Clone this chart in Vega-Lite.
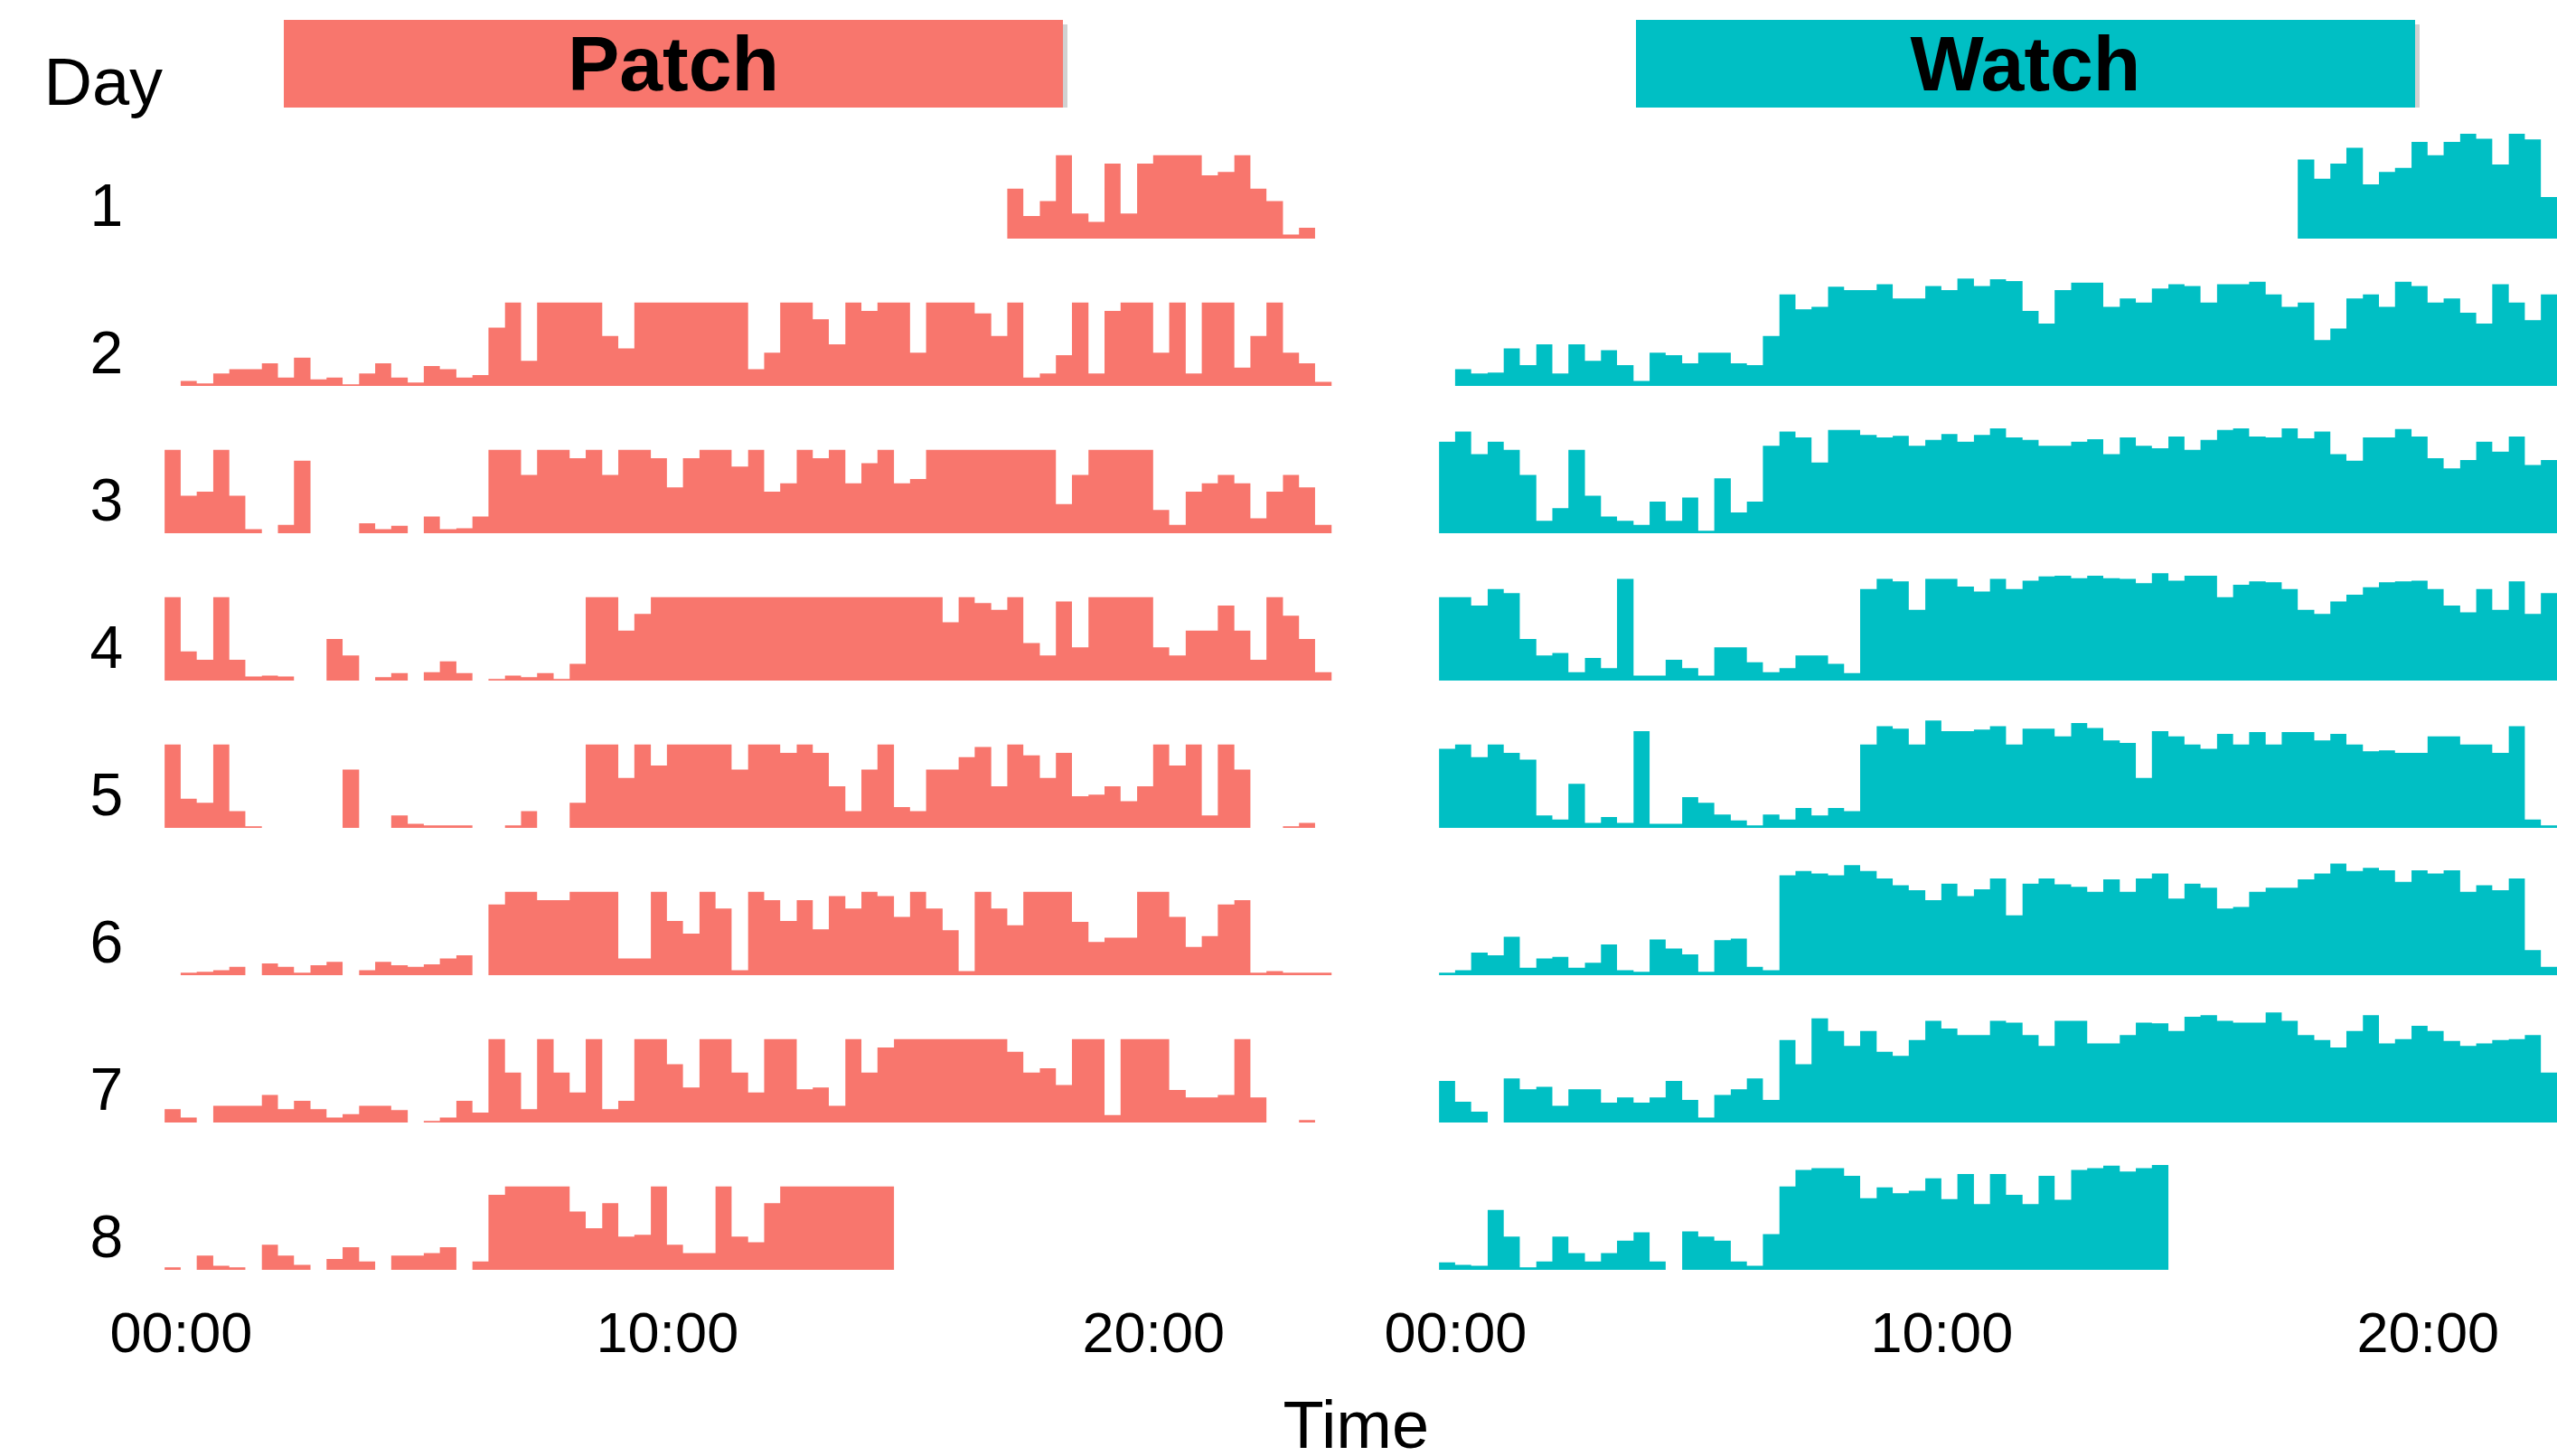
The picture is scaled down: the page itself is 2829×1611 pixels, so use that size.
{
"$schema":"https://vega.github.io/schema/vega-lite/v6.json",
"background":"white",
"padding":{"left":48,"top":22,"right":0,"bottom":0},
"config":{"view":{"stroke":null},"font":"Liberation Sans","axis":{"domain":false,"ticks":false,"grid":false}},
"datasets":{"act":[
{"g":"Patch","t":-0.33,"1":0,"2":0,"3":1,"4":1,"5":1,"6":0,"7":0.16,"8":0.03},
{"g":"Patch","t":0,"1":0,"2":0.06,"3":0.45,"4":0.35,"5":0.35,"6":0.03,"7":0.06,"8":0},
{"g":"Patch","t":0.33,"1":0,"2":0.03,"3":0.5,"4":0.25,"5":0.3,"6":0.04,"7":0,"8":0.17},
{"g":"Patch","t":0.67,"1":0,"2":0.15,"3":1,"4":1,"5":1,"6":0.06,"7":0.2,"8":0.05},
{"g":"Patch","t":1,"1":0,"2":0.2,"3":0.45,"4":0.25,"5":0.2,"6":0.1,"7":0.2,"8":0.03},
{"g":"Patch","t":1.33,"1":0,"2":0.2,"3":0.05,"4":0.05,"5":0.02,"6":0,"7":0.2,"8":0},
{"g":"Patch","t":1.67,"1":0,"2":0.27,"3":0,"4":0.06,"5":0,"6":0.14,"7":0.33,"8":0.3},
{"g":"Patch","t":2,"1":0,"2":0.1,"3":0.1,"4":0.05,"5":0,"6":0.1,"7":0.16,"8":0.17},
{"g":"Patch","t":2.33,"1":0,"2":0.34,"3":0.87,"4":0,"5":0,"6":0.03,"7":0.26,"8":0.06},
{"g":"Patch","t":2.67,"1":0,"2":0.08,"3":0,"4":0,"5":0,"6":0.12,"7":0.16,"8":0},
{"g":"Patch","t":3,"1":0,"2":0.1,"3":0,"4":0.5,"5":0,"6":0.16,"7":0.06,"8":0.13},
{"g":"Patch","t":3.33,"1":0,"2":0.02,"3":0,"4":0.3,"5":0.7,"6":0,"7":0.1,"8":0.27},
{"g":"Patch","t":3.67,"1":0,"2":0.15,"3":0.12,"4":0,"5":0,"6":0.06,"7":0.2,"8":0.1},
{"g":"Patch","t":4,"1":0,"2":0.27,"3":0.05,"4":0.04,"5":0,"6":0.16,"7":0.2,"8":0},
{"g":"Patch","t":4.33,"1":0,"2":0.1,"3":0.09,"4":0.09,"5":0.15,"6":0.12,"7":0.15,"8":0.17},
{"g":"Patch","t":4.67,"1":0,"2":0.04,"3":0,"4":0,"5":0.05,"6":0.1,"7":0,"8":0.17},
{"g":"Patch","t":5,"1":0,"2":0.24,"3":0.2,"4":0.1,"5":0.03,"6":0.13,"7":0.02,"8":0.2},
{"g":"Patch","t":5.33,"1":0,"2":0.2,"3":0.05,"4":0.23,"5":0.03,"6":0.2,"7":0.06,"8":0.27},
{"g":"Patch","t":5.67,"1":0,"2":0.1,"3":0.06,"4":0.09,"5":0.03,"6":0.24,"7":0.26,"8":0},
{"g":"Patch","t":6,"1":0,"2":0.13,"3":0.2,"4":0,"5":0,"6":0,"7":0.12,"8":0.1},
{"g":"Patch","t":6.33,"1":0,"2":0.7,"3":1,"4":0.02,"5":0,"6":0.85,"7":1,"8":0.9},
{"g":"Patch","t":6.67,"1":0,"2":1,"3":1,"4":0.06,"5":0.03,"6":1,"7":0.6,"8":1},
{"g":"Patch","t":7,"1":0,"2":0.3,"3":0.7,"4":0.04,"5":0.2,"6":1,"7":0.16,"8":1},
{"g":"Patch","t":7.33,"1":0,"2":1,"3":1,"4":0.09,"5":0,"6":0.9,"7":1,"8":1},
{"g":"Patch","t":7.67,"1":0,"2":1,"3":1,"4":0.02,"5":0,"6":0.9,"7":0.6,"8":1},
{"g":"Patch","t":8,"1":0,"2":1,"3":0.9,"4":0.2,"5":0.3,"6":1,"7":0.36,"8":0.7},
{"g":"Patch","t":8.33,"1":0,"2":1,"3":1,"4":1,"5":1,"6":1,"7":1,"8":0.5},
{"g":"Patch","t":8.67,"1":0,"2":0.6,"3":0.7,"4":1,"5":1,"6":1,"7":0.16,"8":0.8},
{"g":"Patch","t":9,"1":0,"2":0.45,"3":1,"4":0.6,"5":0.6,"6":0.2,"7":0.26,"8":0.4},
{"g":"Patch","t":9.33,"1":0,"2":1,"3":1,"4":0.8,"5":1,"6":0.2,"7":1,"8":0.42},
{"g":"Patch","t":9.67,"1":0,"2":1,"3":0.9,"4":1,"5":0.75,"6":1,"7":1,"8":1},
{"g":"Patch","t":10,"1":0,"2":1,"3":0.55,"4":1,"5":1,"6":0.65,"7":0.7,"8":0.3},
{"g":"Patch","t":10.33,"1":0,"2":1,"3":0.9,"4":1,"5":1,"6":0.5,"7":0.42,"8":0.2},
{"g":"Patch","t":10.67,"1":0,"2":1,"3":1,"4":1,"5":1,"6":1,"7":1,"8":0.2},
{"g":"Patch","t":11,"1":0,"2":1,"3":1,"4":1,"5":1,"6":0.8,"7":1,"8":1},
{"g":"Patch","t":11.33,"1":0,"2":1,"3":0.8,"4":1,"5":0.7,"6":0.06,"7":0.6,"8":0.4},
{"g":"Patch","t":11.67,"1":0,"2":0.2,"3":1,"4":1,"5":1,"6":1,"7":0.36,"8":0.33},
{"g":"Patch","t":12,"1":0,"2":0.4,"3":0.5,"4":1,"5":1,"6":0.9,"7":1,"8":0.8},
{"g":"Patch","t":12.33,"1":0,"2":1,"3":0.6,"4":1,"5":0.9,"6":0.65,"7":1,"8":1},
{"g":"Patch","t":12.67,"1":0,"2":1,"3":1,"4":1,"5":1,"6":0.9,"7":0.4,"8":1},
{"g":"Patch","t":13,"1":0,"2":0.8,"3":0.9,"4":1,"5":0.9,"6":0.55,"7":0.42,"8":1},
{"g":"Patch","t":13.33,"1":0,"2":0.5,"3":1,"4":1,"5":0.5,"6":0.95,"7":0.2,"8":1},
{"g":"Patch","t":13.67,"1":0,"2":1,"3":0.6,"4":1,"5":0.2,"6":0.8,"7":1,"8":1},
{"g":"Patch","t":14,"1":0,"2":0.9,"3":0.84,"4":1,"5":0.7,"6":1,"7":0.6,"8":1},
{"g":"Patch","t":14.33,"1":0,"2":1,"3":1,"4":1,"5":1,"6":0.95,"7":0.9,"8":1},
{"g":"Patch","t":14.67,"1":0,"2":1,"3":0.6,"4":1,"5":0.25,"6":0.7,"7":1,"8":0},
{"g":"Patch","t":15,"1":0,"2":0.4,"3":0.65,"4":1,"5":0.2,"6":1,"7":1,"8":0},
{"g":"Patch","t":15.33,"1":0,"2":1,"3":1,"4":1,"5":0.7,"6":0.8,"7":1,"8":0},
{"g":"Patch","t":15.67,"1":0,"2":1,"3":1,"4":0.7,"5":0.7,"6":0.54,"7":1,"8":0},
{"g":"Patch","t":16,"1":0,"2":1,"3":1,"4":1,"5":0.85,"6":0.05,"7":1,"8":0},
{"g":"Patch","t":16.33,"1":0,"2":0.87,"3":1,"4":0.93,"5":0.97,"6":1,"7":1,"8":0},
{"g":"Patch","t":16.67,"1":0,"2":0.6,"3":1,"4":0.85,"5":0.5,"6":0.8,"7":1,"8":0},
{"g":"Patch","t":17,"1":0.6,"2":1,"3":1,"4":1,"5":1,"6":0.6,"7":0.85,"8":0},
{"g":"Patch","t":17.33,"1":0.27,"2":0.1,"3":1,"4":0.45,"5":0.87,"6":1,"7":0.6,"8":0},
{"g":"Patch","t":17.67,"1":0.45,"2":0.15,"3":1,"4":0.3,"5":0.6,"6":1,"7":0.65,"8":0},
{"g":"Patch","t":18,"1":1,"2":0.37,"3":0.35,"4":0.95,"5":0.9,"6":1,"7":0.45,"8":0},
{"g":"Patch","t":18.33,"1":0.3,"2":1,"3":0.7,"4":0.4,"5":0.38,"6":0.64,"7":1,"8":0},
{"g":"Patch","t":18.67,"1":0.2,"2":0.15,"3":1,"4":1,"5":0.4,"6":0.4,"7":1,"8":0},
{"g":"Patch","t":19,"1":0.9,"2":0.9,"3":1,"4":1,"5":0.5,"6":0.45,"7":0.09,"8":0},
{"g":"Patch","t":19.33,"1":0.3,"2":1,"3":1,"4":1,"5":0.32,"6":0.45,"7":1,"8":0},
{"g":"Patch","t":19.67,"1":0.9,"2":1,"3":1,"4":1,"5":0.5,"6":1,"7":1,"8":0},
{"g":"Patch","t":20,"1":1,"2":0.4,"3":0.28,"4":0.4,"5":1,"6":1,"7":1,"8":0},
{"g":"Patch","t":20.33,"1":1,"2":1,"3":0.1,"4":0.3,"5":0.75,"6":0.7,"7":0.39,"8":0},
{"g":"Patch","t":20.67,"1":1,"2":0.15,"3":0.5,"4":0.6,"5":1,"6":0.34,"7":0.3,"8":0},
{"g":"Patch","t":21,"1":0.76,"2":1,"3":0.6,"4":0.6,"5":0.15,"6":0.47,"7":0.3,"8":0},
{"g":"Patch","t":21.33,"1":0.8,"2":1,"3":0.7,"4":0.9,"5":1,"6":0.85,"7":0.33,"8":0},
{"g":"Patch","t":21.67,"1":1,"2":0.22,"3":0.6,"4":0.6,"5":0.7,"6":0.9,"7":1,"8":0},
{"g":"Patch","t":22,"1":0.6,"2":0.6,"3":0.18,"4":0.25,"5":0,"6":0.03,"7":0.3,"8":0},
{"g":"Patch","t":22.33,"1":0.45,"2":1,"3":0.5,"4":1,"5":0,"6":0.05,"7":0,"8":0},
{"g":"Patch","t":22.67,"1":0.05,"2":0.4,"3":0.7,"4":0.78,"5":0.02,"6":0.03,"7":0,"8":0},
{"g":"Patch","t":23,"1":0.13,"2":0.27,"3":0.55,"4":0.5,"5":0.06,"6":0.03,"7":0.03,"8":0},
{"g":"Patch","t":23.33,"1":0,"2":0.05,"3":0.1,"4":0.1,"5":0,"6":0.03,"7":0,"8":0},
{"g":"Patch","t":23.67,"1":0,"2":0,"3":0,"4":0,"5":0,"6":0,"7":0,"8":0},
{"g":"Watch","t":-0.33,"1":0,"2":0,"3":1.1,"4":1,"5":0.95,"6":0.03,"7":0.5,"8":0.09},
{"g":"Watch","t":0,"1":0,"2":0.2,"3":1.22,"4":1,"5":1,"6":0.06,"7":0.25,"8":0.06},
{"g":"Watch","t":0.33,"1":0,"2":0.15,"3":0.95,"4":0.9,"5":0.85,"6":0.27,"7":0.13,"8":0.05},
{"g":"Watch","t":0.67,"1":0,"2":0.16,"3":1.1,"4":1.1,"5":1,"6":0.24,"7":0,"8":0.72},
{"g":"Watch","t":1,"1":0,"2":0.45,"3":1,"4":1.05,"5":0.9,"6":0.46,"7":0.53,"8":0.4},
{"g":"Watch","t":1.33,"1":0,"2":0.25,"3":0.7,"4":0.5,"5":0.82,"6":0.09,"7":0.4,"8":0.03},
{"g":"Watch","t":1.67,"1":0,"2":0.5,"3":0.15,"4":0.3,"5":0.15,"6":0.2,"7":0.43,"8":0.1},
{"g":"Watch","t":2,"1":0,"2":0.15,"3":0.3,"4":0.33,"5":0.1,"6":0.22,"7":0.2,"8":0.4},
{"g":"Watch","t":2.33,"1":0,"2":0.5,"3":1,"4":0.1,"5":0.53,"6":0.09,"7":0.4,"8":0.2},
{"g":"Watch","t":2.67,"1":0,"2":0.3,"3":0.45,"4":0.27,"5":0.06,"6":0.15,"7":0.4,"8":0.1},
{"g":"Watch","t":3,"1":0,"2":0.43,"3":0.2,"4":0.15,"5":0.13,"6":0.37,"7":0.24,"8":0.2},
{"g":"Watch","t":3.33,"1":0,"2":0.25,"3":0.15,"4":1.22,"5":0.06,"6":0.06,"7":0.3,"8":0.35},
{"g":"Watch","t":3.67,"1":0,"2":0.06,"3":0.1,"4":0.06,"5":1.16,"6":0.04,"7":0.24,"8":0.45},
{"g":"Watch","t":4,"1":0,"2":0.4,"3":0.38,"4":0.06,"5":0.05,"6":0.43,"7":0.3,"8":0.1},
{"g":"Watch","t":4.33,"1":0,"2":0.37,"3":0.15,"4":0.25,"5":0.05,"6":0.32,"7":0.5,"8":0},
{"g":"Watch","t":4.67,"1":0,"2":0.27,"3":0.43,"4":0.15,"5":0.37,"6":0.25,"7":0.27,"8":0.46},
{"g":"Watch","t":5,"1":0,"2":0.4,"3":0.03,"4":0.06,"5":0.3,"6":0.04,"7":0.06,"8":0.4},
{"g":"Watch","t":5.33,"1":0,"2":0.4,"3":0.66,"4":0.4,"5":0.16,"6":0.42,"7":0.33,"8":0.35},
{"g":"Watch","t":5.67,"1":0,"2":0.27,"3":0.25,"4":0.4,"5":0.09,"6":0.44,"7":0.4,"8":0.1},
{"g":"Watch","t":6,"1":0,"2":0.25,"3":0.38,"4":0.22,"5":0.03,"6":0.1,"7":0.53,"8":0.05},
{"g":"Watch","t":6.33,"1":0,"2":0.6,"3":1.05,"4":0.1,"5":0.16,"6":0.06,"7":0.27,"8":0.43},
{"g":"Watch","t":6.67,"1":0,"2":1.1,"3":1.22,"4":0.15,"5":0.1,"6":1.2,"7":0.99,"8":1},
{"g":"Watch","t":7,"1":0,"2":0.92,"3":1.15,"4":0.3,"5":0.24,"6":1.25,"7":0.7,"8":1.2},
{"g":"Watch","t":7.33,"1":0,"2":0.95,"3":0.85,"4":0.3,"5":0.15,"6":1.22,"7":1.25,"8":1.22},
{"g":"Watch","t":7.67,"1":0,"2":1.19,"3":1.24,"4":0.2,"5":0.24,"6":1.2,"7":1.1,"8":1.22},
{"g":"Watch","t":8,"1":0,"2":1.15,"3":1.24,"4":0.09,"5":0.2,"6":1.32,"7":0.92,"8":1.13},
{"g":"Watch","t":8.33,"1":0,"2":1.15,"3":1.18,"4":1.1,"5":1,"6":1.25,"7":1.1,"8":0.86},
{"g":"Watch","t":8.67,"1":0,"2":1.22,"3":1.15,"4":1.22,"5":1.22,"6":1.16,"7":0.85,"8":0.99},
{"g":"Watch","t":9,"1":0,"2":1.05,"3":1.17,"4":1.19,"5":1.19,"6":1.08,"7":0.8,"8":0.92},
{"g":"Watch","t":9.33,"1":0,"2":1.05,"3":1.05,"4":0.85,"5":1,"6":1.02,"7":0.99,"8":0.95},
{"g":"Watch","t":9.67,"1":0,"2":1.2,"3":1.12,"4":1.22,"5":1.29,"6":0.9,"7":1.22,"8":1.1},
{"g":"Watch","t":10,"1":0,"2":1.15,"3":1.19,"4":1.22,"5":1.16,"6":1.1,"7":1.13,"8":0.85},
{"g":"Watch","t":10.33,"1":0,"2":1.29,"3":1.1,"4":1.13,"5":1.16,"6":0.95,"7":1.05,"8":1.15},
{"g":"Watch","t":10.67,"1":0,"2":1.2,"3":1.18,"4":1.07,"5":1.18,"6":1.03,"7":1.05,"8":0.79},
{"g":"Watch","t":11,"1":0,"2":1.28,"3":1.26,"4":1.22,"5":1.22,"6":1.16,"7":1.22,"8":1.15},
{"g":"Watch","t":11.33,"1":0,"2":1.26,"3":1.15,"4":1.1,"5":1,"6":0.72,"7":1.2,"8":0.9},
{"g":"Watch","t":11.67,"1":0,"2":0.9,"3":1.12,"4":1.2,"5":1.19,"6":1.1,"7":1.05,"8":0.79},
{"g":"Watch","t":12,"1":0,"2":0.75,"3":1.05,"4":1.25,"5":1.19,"6":1.16,"7":0.92,"8":1.13},
{"g":"Watch","t":12.33,"1":0,"2":1.15,"3":1.05,"4":1.26,"5":1.1,"6":1.09,"7":1.22,"8":0.84},
{"g":"Watch","t":12.67,"1":0,"2":1.24,"3":1.1,"4":1.23,"5":1.26,"6":1.06,"7":1.22,"8":1.2},
{"g":"Watch","t":13,"1":0,"2":1.24,"3":1.13,"4":1.26,"5":1.2,"6":1,"7":0.95,"8":1.22},
{"g":"Watch","t":13.33,"1":0,"2":0.95,"3":0.95,"4":1.23,"5":1.05,"6":1.15,"7":0.95,"8":1.25},
{"g":"Watch","t":13.67,"1":0,"2":1.05,"3":1.15,"4":1.22,"5":1.02,"6":1,"7":1.05,"8":1.18},
{"g":"Watch","t":14,"1":0,"2":1,"3":1.05,"4":1.17,"5":0.6,"6":1.16,"7":1.2,"8":1.22},
{"g":"Watch","t":14.33,"1":0,"2":1.17,"3":1.02,"4":1.29,"5":1.16,"6":1.22,"7":1.19,"8":1.26},
{"g":"Watch","t":14.67,"1":0,"2":1.22,"3":1.16,"4":1.2,"5":1.1,"6":0.92,"7":1.1,"8":0},
{"g":"Watch","t":15,"1":0,"2":1.2,"3":1,"4":1.26,"5":1,"6":1.1,"7":1.27,"8":0},
{"g":"Watch","t":15.33,"1":0,"2":1,"3":1.12,"4":1.26,"5":0.95,"6":1.05,"7":1.29,"8":0},
{"g":"Watch","t":15.67,"1":0,"2":1.22,"3":1.24,"4":1,"5":1.13,"6":0.8,"7":1.22,"8":0},
{"g":"Watch","t":16,"1":0,"2":1.22,"3":1.26,"4":1.15,"5":1,"6":0.82,"7":1.2,"8":0},
{"g":"Watch","t":16.33,"1":0,"2":1.25,"3":1.16,"4":1.19,"5":1.15,"6":1,"7":1.2,"8":0},
{"g":"Watch","t":16.67,"1":0,"2":1.1,"3":1.15,"4":1.18,"5":1,"6":1.05,"7":1.32,"8":0},
{"g":"Watch","t":17,"1":0,"2":0.95,"3":1.26,"4":1.1,"5":1.15,"6":1.05,"7":1.22,"8":0},
{"g":"Watch","t":17.33,"1":0.95,"2":1,"3":1.14,"4":0.85,"5":1.15,"6":1.15,"7":1.05,"8":0},
{"g":"Watch","t":17.67,"1":0.72,"2":0.55,"3":1.22,"4":0.8,"5":1.05,"6":1.22,"7":0.99,"8":0},
{"g":"Watch","t":18,"1":0.9,"2":0.69,"3":0.95,"4":0.95,"5":1.13,"6":1.34,"7":0.9,"8":0},
{"g":"Watch","t":18.33,"1":1.09,"2":1.05,"3":0.87,"4":1.03,"5":1,"6":1.25,"7":1.1,"8":0},
{"g":"Watch","t":18.67,"1":0.65,"2":1.1,"3":1.15,"4":1.12,"5":0.92,"6":1.29,"7":1.29,"8":0},
{"g":"Watch","t":19,"1":0.8,"2":0.95,"3":1.15,"4":1.18,"5":0.93,"6":1.26,"7":0.95,"8":0},
{"g":"Watch","t":19.33,"1":0.85,"2":1.25,"3":1.25,"4":1.19,"5":0.9,"6":1.12,"7":1,"8":0},
{"g":"Watch","t":19.67,"1":1.16,"2":1.2,"3":1.16,"4":1.2,"5":0.9,"6":1.26,"7":1.16,"8":0},
{"g":"Watch","t":20,"1":1,"2":1,"3":0.9,"4":1.1,"5":1.1,"6":1.22,"7":1.1,"8":0},
{"g":"Watch","t":20.33,"1":1.16,"2":1.05,"3":0.78,"4":0.9,"5":1.1,"6":1.26,"7":0.98,"8":0},
{"g":"Watch","t":20.67,"1":1.26,"2":0.88,"3":0.88,"4":0.82,"5":1,"6":1,"7":0.92,"8":0},
{"g":"Watch","t":21,"1":1.2,"2":0.75,"3":1.1,"4":1.1,"5":1,"6":1.08,"7":0.95,"8":0},
{"g":"Watch","t":21.33,"1":0.89,"2":1.22,"3":0.98,"4":0.85,"5":0.9,"6":1.02,"7":0.99,"8":0},
{"g":"Watch","t":21.67,"1":1.26,"2":1,"3":1.16,"4":1.19,"5":1.22,"6":1.16,"7":1,"8":0},
{"g":"Watch","t":22,"1":1.19,"2":0.79,"3":0.82,"4":0.8,"5":0.1,"6":0.3,"7":1.05,"8":0},
{"g":"Watch","t":22.33,"1":0.5,"2":1.1,"3":0.88,"4":1.05,"5":0.03,"6":0.1,"7":0.6,"8":0},
{"g":"Watch","t":22.67,"1":0.7,"2":1.1,"3":0.9,"4":1,"5":0.03,"6":0.1,"7":0.4,"8":0},
{"g":"Watch","t":23,"1":0.7,"2":1,"3":0.8,"4":0.9,"5":0.03,"6":0.1,"7":0.3,"8":0},
{"g":"Watch","t":23.33,"1":0.5,"2":0.9,"3":0.7,"4":0.8,"5":0.03,"6":0.1,"7":0.3,"8":0},
{"g":"Watch","t":23.67,"1":0,"2":0,"3":0,"4":0,"5":0,"6":0,"7":0,"8":0}
]},
"bounds":"flush",
"spacing":16,
"vconcat":[
{
"width":2499,"height":97,
"data":{"values":[{"g":"Patch"},{"g":"Watch"}]},
"encoding":{"x":{"field":"g","type":"nominal","axis":null,"scale":{"paddingInner":0.4238,"paddingOuter":0.04713,"align":1}}},
"layer":[
{"mark":{"type":"bar","color":"#9a9a9a","opacity":0.45,"xOffset":5,"yOffset":5}},
{"mark":{"type":"bar","opacity":1},"encoding":{"color":{"field":"g","type":"nominal","scale":{"domain":["Patch","Watch"],"range":["#F8766D","#00BFC4"]},"legend":null}}},
{"mark":{"type":"text","fontSize":86,"fontWeight":"bold","font":"Liberation Sans","color":"black","baseline":"middle","dy":3},"encoding":{"text":{"field":"g"}}},
{"mark":{"type":"point","opacity":0,"size":0},"encoding":{"y":{"datum":0,"type":"quantitative","scale":{"domain":[0,1]},"axis":{"title":"Day","labels":false,"ticks":false,"domain":false,"grid":false,"titleAngle":0,"titleX":-125,"titleY":93,"titleAlign":"left","titleBaseline":"alphabetic","titleFontSize":74,"titleFontWeight":"normal","titleFont":"Liberation Sans","titleColor":"black"}}}}
]
},
{
"data":{"name":"act"},
"transform":[{"fold":["1","2","3","4","5","6","7","8"],"as":["d","v"]}],
"title":{"text":"Time","orient":"bottom","anchor":"middle","fontSize":74,"fontWeight":"normal","font":"Liberation Sans","color":"black","baseline":"alphabetic","offset":94},
"spacing":{"row":34,"column":92},
"facet":{
"row":{"field":"d","type":"ordinal","title":null,"header":{"labelAngle":0,"labelFontSize":66,"labelFont":"Liberation Sans","labelColor":"black","labelPadding":0,"labelAlign":"right","labelAnchor":"start","labelBaseline":"bottom"}},
"column":{"field":"g","type":"nominal","title":null,"header":null}
},
"spec":{
"width":1318,"height":129,
"mark":{"type":"area","interpolate":"step-after","opacity":1},
"encoding":{
"x":{"field":"t","type":"quantitative","scale":{"domain":[-0.5,24],"nice":false,"zero":false},"axis":{"values":[0,10,20],"labelExpr":"datum.value == 0 ? '00:00' : datum.value + ':00'","labelFontSize":63,"labelFont":"Liberation Sans","labelColor":"black","labelPadding":40,"labelFlush":false,"title":null}},
"y":{"field":"v","type":"quantitative","scale":{"domain":[0,1.4],"nice":false},"axis":null},
"color":{"field":"g","type":"nominal","scale":{"domain":["Patch","Watch"],"range":["#F8766D","#00BFC4"]},"legend":null}
}
}
}
]
}
